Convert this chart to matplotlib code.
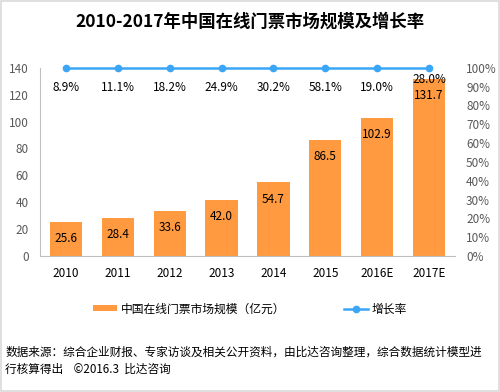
import matplotlib.pyplot as plt
import numpy as np
from matplotlib.patches import Rectangle

plt.rcParams['font.family'] = ['Noto Sans CJK SC', 'DejaVu Sans']

years = ["2010", "2011", "2012", "2013", "2014", "2015", "2016E", "2017E"]
market_size = [25.6, 28.4, 33.6, 42.0, 54.7, 86.5, 102.9, 131.7]
growth = [8.9, 11.1, 18.2, 24.9, 30.2, 58.1, 19.0, 28.0]

bar_color = "#FF9A40"
line_color = "#3AA6F5"

fig = plt.figure(figsize=(5, 3.92), dpi=100)
ax = fig.add_axes([0.08, 0.347, 0.83, 0.48])
x = np.arange(len(years))

bars = ax.bar(x, market_size, width=0.62, color=bar_color,
              label="中国在线门票市场规模（亿元）", zorder=2)
for xi, v in zip(x, market_size):
    ax.annotate(f"{v:.1f}", (xi, v), xytext=(0, -12), textcoords="offset points",
                ha="center", va="center", fontsize=8.5, color="#000000", zorder=3)

ax.set_ylim(0, 140)
ax.set_yticks(range(0, 141, 20))
ax.set_xlim(-0.5, len(years) - 0.5)
ax.set_xticks(x)
ax.set_xticklabels(years)
ax.tick_params(axis="y", length=0, labelsize=8.5, labelcolor="#595959", pad=8)
ax.tick_params(axis="x", length=0, labelsize=8.5, labelcolor="#000000", pad=8)
for s in ["top", "right"]:
    ax.spines[s].set_visible(False)
ax.spines["left"].set_color("#BFBFBF")
ax.spines["bottom"].set_color("#BFBFBF")

ax2 = ax.twinx()
ax2.set_ylim(0, 1.0)
ax2.set_yticks(np.arange(0, 1.01, 0.1))
ax2.set_yticklabels([f"{int(round(t * 100))}%" for t in np.arange(0, 1.01, 0.1)])
ax2.tick_params(axis="y", length=0, labelsize=8.5, labelcolor="#595959", pad=8)
for s in ax2.spines.values():
    s.set_visible(False)
# the growth line sits on the 100% level in the original chart
ax2.plot(x, np.ones(len(x)), color=line_color, lw=1.8, marker="o", ms=4.5,
         label="增长率", clip_on=False, zorder=4)
for i, (xi, g) in enumerate(zip(x, growth)):
    yy = 0.94 if i == len(x) - 1 else 0.895
    ax2.text(xi, yy, f"{g:.1f}%", ha="center", va="center", fontsize=8.5,
             color="#000000", zorder=5)

fig.text(0.5, 0.945, "2010-2017年中国在线门票市场规模及增长率", ha="center",
         va="center", fontsize=12.5, fontweight="bold")

h1, l1 = ax.get_legend_handles_labels()
h2, l2 = ax2.get_legend_handles_labels()
fig.legend(h1 + h2, l1 + l2, loc="center", bbox_to_anchor=(0.5, 0.212), ncol=2,
           frameon=False, fontsize=8.5, columnspacing=5.0, handlelength=2.0,
           handleheight=0.45, handletextpad=0.3)

fig.text(0.01, 0.08, "数据来源：综合企业财报、专家访谈及相关公开资料，由比达咨询整理，综合数据统计模型进\n"
         "行核算得出    ©2016.3  比达咨询", ha="left", va="center", fontsize=8.4,
         linespacing=1.35)

fig.patches.append(Rectangle((0.002, 0.002), 0.996, 0.996, transform=fig.transFigure,
                             fill=False, edgecolor="#D9D9D9", lw=1.2))

fig.savefig("out.png", dpi=100)
